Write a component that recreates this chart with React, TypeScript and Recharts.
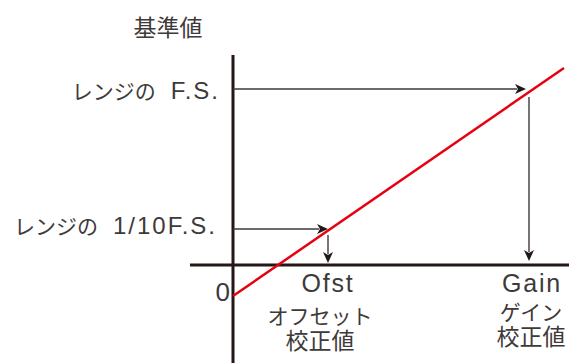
import React from "react"
import { Line, LineChart, ReferenceDot, ReferenceLine, XAxis, YAxis } from "recharts"

// diagram units: origin where the two axes cross, 1 unit ~ 1px
const redLine = [
  { x: 0, y: -31 },
  { x: 331, y: 197 },
]

const fsLevel = 176
const tenthLevel = 36
const ofstX = 95
const gainX = 296

const axisSegments = [
  { from: { x: 0, y: 210 }, to: { x: 0, y: -98 } },
  { from: { x: -43, y: 0 }, to: { x: 336, y: 0 } },
]

const arrows = [
  { from: { x: 0, y: fsLevel }, to: { x: gainX - 3, y: fsLevel } },
  { from: { x: gainX, y: 168 }, to: { x: gainX, y: 4 } },
  { from: { x: 0, y: tenthLevel }, to: { x: ofstX, y: tenthLevel } },
  { from: { x: ofstX, y: 30 }, to: { x: ofstX, y: 2 } },
]

// each label: lines of [text, kind] parts; kind "j" japanese, "k" kanji, "s" spacer, "l"/"L"/"n" latin
const labels = [
  { lines: [[["基準値", "k"]]], x: -65, y: 238, anchor: "middle" },
  { lines: [[["レンジの", "j"], ["　", "s"], ["F.S.", "l"]]], x: -13, y: 175, anchor: "end" },
  { lines: [[["レンジの", "j"], ["　", "s"], ["1/10F.S.", "l"]]], x: -16, y: 40, anchor: "end" },
  { lines: [[["0", "n"]]], x: -3, y: -27, anchor: "end" },
  { lines: [[["Ofst", "L"]]], x: ofstX, y: -18, anchor: "middle" },
  { lines: [[["オフセット", "j"]], [["校正値", "k"]]], x: 87, y: -51, anchor: "middle" },
  { lines: [[["Gain", "L"]]], x: 299, y: -18, anchor: "middle" },
  { lines: [[["ゲイン", "j"]], [["校正値", "k"]]], x: 298, y: -47, anchor: "middle" },
]

const CJK = "'Noto Sans CJK JP', sans-serif"
const LAT = "'Liberation Sans', Arial, sans-serif"
const INK = "#231815"
const TEXT = "#3e3a39"

const styles: Record<string, any> = {
  j: { fontFamily: CJK, fontSize: 21 },
  k: { fontFamily: CJK, fontSize: 23 },
  s: { fontFamily: CJK, fontSize: 15 },
  l: { fontFamily: LAT, fontSize: 24, letterSpacing: 2 },
  L: { fontFamily: LAT, fontSize: 25, letterSpacing: 1.8 },
  n: { fontFamily: LAT, fontSize: 26 },
}

const ArrowShape = (props: any) => {
  const { x1, y1, x2, y2 } = props
  const dx = x2 - x1
  const dy = y2 - y1
  const len = Math.sqrt(dx * dx + dy * dy) || 1
  const ux = dx / len
  const uy = dy / len
  const head = 11
  const half = 5
  const bx = x2 - ux * head
  const by = y2 - uy * head
  const nx = x2 - ux * (head - 3)
  const ny = y2 - uy * (head - 3)
  const pts = [
    [x2, y2],
    [bx - uy * half, by + ux * half],
    [nx, ny],
    [bx + uy * half, by - ux * half],
  ]
  return (
    <g>
      <line x1={x1} y1={y1} x2={nx} y2={ny} stroke="#3e3a39" strokeWidth={1.4} />
      <polygon points={pts.map((p) => p.join(",")).join(" ")} fill={INK} stroke="#fff" strokeWidth={1} paintOrder="stroke" />
    </g>
  )
}

const baseOffset = (parts: any[]) => {
  const main = styles[parts[parts.length - 1][1]]
  return main.fontSize * (main.fontFamily === LAT ? 0.36 : 0.38)
}

const makeLabel = (lines: any[][], anchor: string) => (props: any) => {
  const vb = props.viewBox || {}
  const cx = vb.x + (vb.width || 0) / 2
  const cy = vb.y + (vb.height || 0) / 2
  return (
    <text textAnchor={anchor} fill={TEXT}>
      {lines.map((parts, li) =>
        parts.map(([t, k]: string[], i: number) => (
          <tspan
            key={li + "-" + i}
            {...styles[k]}
            {...(i === 0 ? { x: cx, y: cy + li * 24 + baseOffset(parts) } : {})}
          >
            {t}
          </tspan>
        ))
      )}
    </text>
  )
}

export default function App() {
  return (
    <div style={{ position: "absolute", left: 0, top: 0, width: 569, height: 363, background: "#fff" }}>
      <LineChart width={569} height={363} data={redLine} margin={{ top: 0, right: 0, bottom: 0, left: 0 }}>
        <XAxis type="number" dataKey="x" domain={[-233, 336]} hide allowDataOverflow />
        <YAxis type="number" domain={[-98, 265]} hide allowDataOverflow />
        {axisSegments.map((s, i) => (
          <ReferenceLine
            key={"ax" + i}
            segment={[s.from, s.to]}
            stroke={INK}
            strokeWidth={3}
            ifOverflow="visible"
          />
        ))}
        {arrows.map((a, i) => (
          <ReferenceLine key={"ar" + i} segment={[a.from, a.to]} ifOverflow="visible" shape={ArrowShape} />
        ))}
        <Line
          type="linear"
          dataKey="y"
          stroke="#e60012"
          strokeWidth={2.5}
          dot={false}
          activeDot={false}
          isAnimationActive={false}
        />
        {labels.map((l, i) => (
          <ReferenceDot
            key={"lb" + i}
            x={l.x}
            y={l.y}
            r={0}
            fill="none"
            stroke="none"
            ifOverflow="visible"
            label={{ content: makeLabel(l.lines, l.anchor) }}
          />
        ))}
      </LineChart>
    </div>
  )
}
